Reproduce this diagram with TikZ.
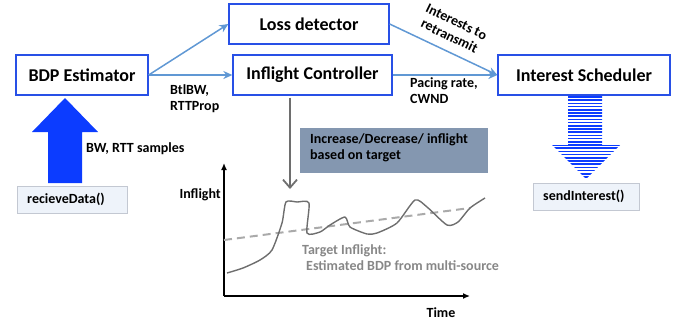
\documentclass[tikz,border=0pt]{standalone}
\usepackage{fontspec}
\setmainfont{Carlito}
\usetikzlibrary{positioning,arrows.meta}

\definecolor{boxblue}{RGB}{40,80,230}
\definecolor{linkblue}{RGB}{96,152,212}
\definecolor{bigblue}{RGB}{12,60,255}
\definecolor{notefill}{RGB}{132,151,176}
\definecolor{callfill}{RGB}{238,243,250}
\definecolor{callline}{RGB}{195,200,210}
\definecolor{curvegray}{RGB}{110,110,110}
\definecolor{dashgray}{RGB}{170,170,170}
\definecolor{textgray}{RGB}{135,135,135}

\tikzset{
  block/.style={draw=boxblue, line width=1.3pt, minimum height=40pt, inner sep=0pt,
    font=\fontsize{18}{20}\selectfont\bfseries},
  link/.style={draw=linkblue, line width=1.5pt, -{Stealth[length=9pt,width=8pt]}},
  call/.style={draw=callline, fill=callfill, minimum height=27pt, inner xsep=10pt,
    align=left, font=\fontsize{14}{16}\selectfont\bfseries},
  lbl/.style={font=\fontsize{14}{16}\selectfont\bfseries, align=left, inner sep=0pt},
}

\begin{document}
\begin{tikzpicture}[x=1pt,y=-1pt]
  \useasboundingbox (0,0) rectangle (686,322);

  % blocks
  \node[block, minimum width=132pt] (bdp) at (82,75) {BDP Estimator};
  \node[block, minimum width=160pt] (loss) at (309,24) {Loss detector};
  \node[block, minimum width=159pt] (ctrl) at (312.5,75) {Inflight Controller};
  \node[block, minimum width=172pt] (sched) at (584,75) {Interest Scheduler};

  % links
  \draw[link] (bdp.east) -- (loss.west);
  \draw[link] (bdp.east) -- (ctrl.west);
  \draw[link] (loss.east) -- (sched.west);
  \draw[link] (ctrl.east) -- (sched.west);

  \node[lbl, anchor=north west] (btl) at (170,84) {BtlBW,\\RTTProp};
  \node[lbl, anchor=north west] (pace) at (410,77) {Pacing rate,\\CWND};
  \node[lbl, align=center, rotate=-26] (retx) at (453,29) {Interests to\\retransmit};

  % receive side
  \fill[bigblue] (48,183) -- (48,132) -- (32,132) -- (65,98) -- (98,132) -- (82,132) -- (82,183) -- cycle;
  \node[call, text width=90pt, anchor=north west] (recv) at (17,186) {recieveData()};
  \node[lbl, anchor=base west] (samples) at (86,152) {BW, RTT samples};

  % send side
  \begin{scope}
    \clip (568,96) -- (602,96) -- (602,145) -- (620,145) -- (586,179) -- (552,145) -- (568,145) -- cycle;
    \foreach \yy in {97,100.2,...,182}
      \draw[bigblue, line width=1.7pt] (545,\yy) -- (630,\yy);
  \end{scope}
  \node[call, text width=86pt, anchor=north west] (send) at (533,183) {sendInterest()};

  % target note
  \node[fill=notefill, minimum width=188pt, minimum height=45pt, anchor=north west] (note) at (300,128) {};
  \node[lbl, anchor=north west] (notetxt) at (310,133) {Increase/Decrease/ inflight\\based on target};
  \coordinate (hit) at (290,189);
  \draw[curvegray, line width=1.8pt, -{Straight Barb[length=8pt,width=14pt]}] (ctrl.south -| hit) ++(0,2) -- (hit);

  % inflight plot
  \coordinate (o) at (224,296);
  \coordinate (ytop) at (224,163);
  \coordinate (xend) at (470,296);
  \draw[line width=1.3pt, -{Latex[length=7pt,width=6pt]}] (o) -- (ytop);
  \draw[line width=1.3pt, -{Latex[length=7pt,width=6pt]}] (o) -- (xend);
  \node[lbl, anchor=base east] (ylab) at (221,198) {Inflight};
  \node[lbl, anchor=base] (xlab) at (441,317) {Time};

  \coordinate (tgtA) at (224,240);
  \coordinate (tgtB) at (470,208);
  \draw[dashgray, line width=2pt, dash pattern=on 8pt off 5pt] (tgtA) -- (tgtB);
  \draw[curvegray, line width=1.4pt] plot[smooth, tension=0.4] coordinates {
    (227,273) (243,268) (260,260) (272,250) (282,223) (286,202) (297,202) (309,203)
    (307,233) (320,232) (330,225) (345,217) (350,227) (367,234) (377,233) (397,223)
    (415,200) (427,207) (447,225) (458,222) (470,208) (485,198)};
  \node[lbl, text=textgray, anchor=north west] (tgt) at (302,244) {Target Inflight:\\\hspace*{4pt}Estimated BDP from multi-source};
\end{tikzpicture}
\end{document}
